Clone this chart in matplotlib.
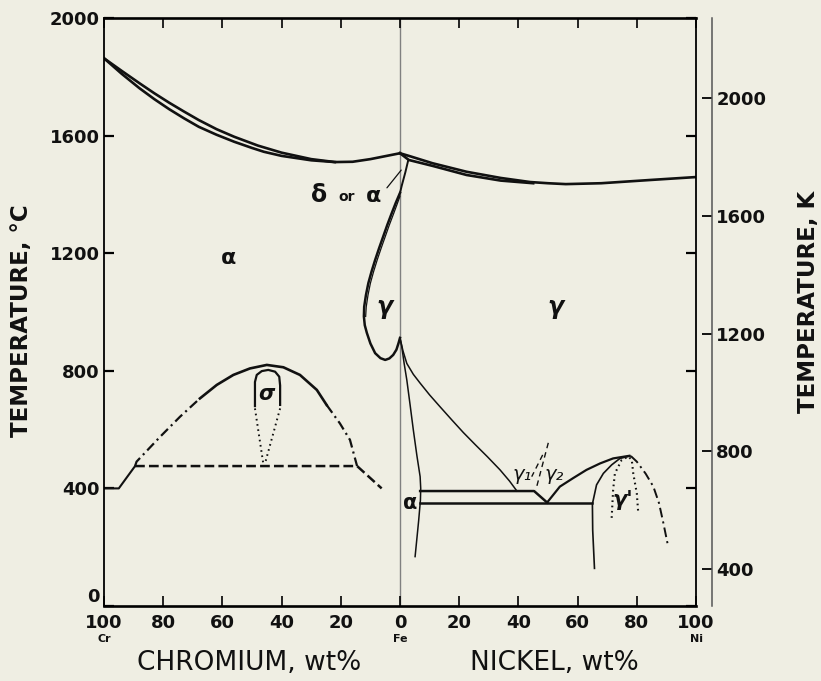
import numpy as np
import matplotlib.pyplot as plt

plt.rcParams['font.family'] = ['DejaVu Sans']
plt.rcParams['lines.scale_dashes'] = False

# ---- Fe-Cr side: wt% Cr, temperature in deg C ----
cr_liq = [100, 94, 88, 83, 78, 73, 68, 62, 56, 48, 40, 30, 22, 16, 10, 5, 0]
t_cr_liq = [1863, 1820, 1778, 1744, 1712, 1682, 1653, 1622, 1596, 1566, 1542, 1520,
            1510, 1511, 1520, 1530, 1540]
cr_sol = [100, 94, 88, 83, 78, 73, 68, 62, 56, 50, 46, 40, 30, 22]
t_cr_sol = [1863, 1810, 1761, 1724, 1690, 1659, 1630, 1603, 1579, 1558, 1545, 1531,
            1516, 1510]

# gamma loop (outer and inner boundary)
cr_loop_out = [0, 1.4, 2.8, 4.3, 5.7, 7.1, 8.4, 9.6, 10.7, 11.5, 12.1, 12.2, 11.9,
               11.2, 10.0, 8.4, 6.6, 5.0, 3.6, 2.3, 1.2, 0.5, 0]
t_loop_out = [1405, 1372, 1336, 1296, 1256, 1216, 1177, 1138, 1098, 1058, 1018, 985,
              955, 929, 893, 860, 843, 837, 842, 854, 872, 894, 912]
cr_loop_in = [0, 1.0, 2.1, 3.6, 5.0, 6.4, 7.7, 8.9, 10.0, 10.8, 11.4, 11.6]
t_loop_in = [1394, 1366, 1336, 1296, 1256, 1216, 1177, 1138, 1098, 1058, 1018, 985]

# alpha + alpha' miscibility gap and sigma
cr_gap_l = [89.5, 89, 81, 74.3, 67.6]
t_gap_l = [476, 491, 576, 644, 706]
cr_gap_top = [67.6, 61.9, 56.3, 50.7, 45, 39.4, 33.8, 28.1, 24.8]
t_gap_top = [706, 752, 786, 808, 820, 812, 786, 735, 684]
cr_gap_r = [24.8, 20.3, 16.9, 14.5]
t_gap_r = [684, 621, 565, 476]
cr_low = [100, 95, 89.5]
t_low = [400, 400, 476]
cr_eut = [89.5, 14.5, 6.2]
t_eut = [476, 476, 400]
cr_sig = [49, 49, 48.4, 46.7, 44.5, 42.2, 40.8, 40.5, 40.5]
t_sig = [680, 762, 786, 799, 803, 797, 780, 750, 684]
cr_sig_l = [49, 46.2]
cr_sig_r = [40.5, 45.6]
t_sig_dot = [672, 485]

# ---- Fe-Ni side: wt% Ni, temperature in deg C ----
ni_liq = [0, 3, 11, 22.5, 34, 44, 50, 56, 68, 84.5, 100]
t_ni_liq = [1540, 1531, 1506, 1477, 1456, 1442, 1438, 1435, 1438, 1449, 1459]
ni_sol = [0, 3, 11, 22.5, 34, 45]
t_ni_sol = [1540, 1517, 1497, 1466, 1447, 1438]
ni_delta = [2.8, 1.8, 0.6, 0]
t_delta = [1517, 1475, 1430, 1405]

ni_alpha = [0, 0.6, 1.4, 2.3, 3.4, 4.5, 5.7, 6.8, 7.0, 6.9, 6.3, 5.1]
t_alpha = [912, 882, 825, 769, 685, 599, 512, 440, 400, 360, 290, 168]
ni_gam = [0, 1, 2.3, 4.5, 6.8, 10, 13.5, 17.5, 21.4, 25.5, 29.5, 33.8, 37, 39.5]
t_gam = [912, 868, 825, 788, 758, 718, 678, 633, 590, 548, 508, 463, 425, 391]
ni_hi = [6.8, 45.3, 49.7]
t_hi = [391, 391, 352]
ni_lo = [6.8, 65]
t_lo = [352, 352]
ni_g2 = [49.7, 54, 58.5, 63, 67.6, 72, 77.5]
t_g2 = [352, 406, 435, 463, 485, 502, 511]
ni_dome_l = [65.7, 65.1, 65, 66.4, 68.7, 71.5, 74.3, 77.7]
t_dome_l = [128, 258, 347, 412, 451, 480, 502, 510]
ni_dome_r = [78, 80, 83, 85.6, 87.5, 89, 90.6]
t_dome_r = [510, 491, 450, 406, 350, 281, 202]
ni_ord_l = [76.5, 74.9, 72.6, 72, 71.5]
t_ord_l = [505, 497, 451, 395, 298]
ni_ord_r = [77.5, 78.3, 78.8, 80, 80.5]
t_ord_r = [505, 497, 451, 383, 315]
ni_g12a = [50.1, 45.9]
t_g12a = [555, 395]
ni_g12b = [48.2, 44.5]
t_g12b = [514, 440]

x_ticks = [-100, -80, -60, -40, -20, 0, 20, 40, 60, 80, 100]
x_labels = ['100', '80', '60', '40', '20', '0', '20', '40', '60', '80', '100']
t_ticks = [0, 400, 800, 1200, 1600, 2000]
k_ticks = [400, 800, 1200, 1600, 2000]

bg = '#efeee3'
ink = '#111111'
dashdot = (0, (7, 3, 1.5, 3))
dashed = (0, (7, 3))
dotted = (0, (1.2, 2.6))

fig = plt.figure(figsize=(8.21, 6.81), dpi=100, facecolor=bg)
ax = fig.add_axes([104 / 821, 75 / 681, 592 / 821, 588 / 681])
ax.set_facecolor(bg)
ax.set_xlim(-100, 100)
ax.set_ylim(0, 2000)


def neg(v):
    return -np.array(v)


# liquidus / solidus
ax.plot(neg(cr_liq), t_cr_liq, color=ink, lw=1.9)
ax.plot(neg(cr_sol), t_cr_sol, color=ink, lw=1.9)
ax.plot(ni_liq, t_ni_liq, color=ink, lw=1.9)
ax.plot(ni_sol, t_ni_sol, color=ink, lw=1.9)
ax.plot(ni_delta, t_delta, color=ink, lw=1.4)

# gamma loop
ax.plot(neg(cr_loop_out), t_loop_out, color=ink, lw=1.8)
ax.plot(neg(cr_loop_in), t_loop_in, color=ink, lw=0.9)

# Cr side low temperature
ax.plot(neg(cr_gap_l), t_gap_l, color=ink, lw=1.6, ls=dashdot)
ax.plot(neg(cr_gap_top), t_gap_top, color=ink, lw=1.9)
ax.plot(neg(cr_gap_r), t_gap_r, color=ink, lw=1.6, ls=dashdot)
ax.plot(neg(cr_low), t_low, color=ink, lw=1.5)
ax.plot(neg(cr_eut), t_eut, color=ink, lw=1.8, ls=dashed)
ax.plot(neg(cr_sig), t_sig, color=ink, lw=1.6)
ax.plot(neg(cr_sig_l), t_sig_dot, color=ink, lw=1.4, ls=dotted)
ax.plot(neg(cr_sig_r), t_sig_dot, color=ink, lw=1.4, ls=dotted)

# Ni side low temperature
ax.plot(ni_alpha, t_alpha, color=ink, lw=1.1)
ax.plot(ni_gam, t_gam, color=ink, lw=1.1)
ax.plot(ni_hi, t_hi, color=ink, lw=1.8)
ax.plot(ni_lo, t_lo, color=ink, lw=1.8)
ax.plot(ni_g2, t_g2, color=ink, lw=1.6)
ax.plot(ni_dome_l, t_dome_l, color=ink, lw=1.2)
ax.plot(ni_dome_r, t_dome_r, color=ink, lw=1.4, ls=dashdot)
ax.plot(ni_ord_l, t_ord_l, color=ink, lw=1.5, ls=dotted)
ax.plot(ni_ord_r, t_ord_r, color=ink, lw=1.5, ls=dotted)
ax.plot(ni_g12a, t_g12a, color=ink, lw=1.0, ls=(0, (4, 3)))
ax.plot(ni_g12b, t_g12b, color=ink, lw=1.0, ls=(0, (4, 3)))

# pure Fe line
ax.axvline(0, color='#808080', lw=1.0, zorder=0)

# phase labels
ax.text(-58, 1184, 'α', fontsize=16, fontweight='bold', ha='center', va='center',
        color=ink)
ax.text(-27.5, 1398, 'δ', fontsize=17, fontweight='bold', ha='center', va='center',
        color=ink)
ax.text(-18, 1392, 'or', fontsize=10, fontweight='bold', ha='center', va='center',
        color=ink)
ax.text(-8.8, 1394, 'α', fontsize=16, fontweight='bold', ha='center', va='center',
        color=ink)
ax.annotate('', xy=(1.0, 1490), xytext=(-5.0, 1415),
            arrowprops=dict(arrowstyle='-', color=ink, lw=0.9))
ax.text(-5.2, 1017, 'γ', fontsize=17, fontweight='bold', style='italic', ha='center',
        va='center', color=ink)
ax.text(52.4, 1017, 'γ', fontsize=17, fontweight='bold', style='italic', ha='center',
        va='center', color=ink)
ax.text(-45, 720, 'σ', fontsize=15, fontweight='bold', style='italic', ha='center',
        va='center', color=ink)
ax.text(3.6, 352, 'α', fontsize=15, fontweight='bold', ha='center', va='center',
        color=ink)
ax.text(41.3, 446, 'γ₁', fontsize=14, style='italic', ha='center', va='center',
        color=ink)
ax.text(52.0, 446, 'γ₂', fontsize=14, style='italic', ha='center', va='center',
        color=ink)
ax.text(75.3, 362, "γ'", fontsize=15, fontweight='bold', style='italic', ha='center',
        va='center', color=ink)

# axes, ticks
for side in ['top', 'bottom']:
    ax.spines[side].set_linewidth(1.9)
for side in ['left', 'right']:
    ax.spines[side].set_linewidth(1.3)
ax.set_xticks(x_ticks)
ax.set_xticklabels(x_labels)
ax.set_yticks(t_ticks)
ax.tick_params(axis='x', direction='in', length=7, width=1.2, top=True, pad=6,
               labelsize=13, labelcolor=ink)
ax.tick_params(axis='y', direction='in', length=7, width=1.6, right=True, pad=3,
               labelsize=13, labelcolor=ink)
for lab in ax.get_xticklabels() + ax.get_yticklabels():
    lab.set_fontweight('bold')
ax.get_yticklabels()[0].set_va('bottom')

for xv, name in [(-100, 'Cr'), (0, 'Fe'), (100, 'Ni')]:
    ax.text(xv, -0.056, name, transform=ax.get_xaxis_transform(), fontsize=8,
            fontweight='bold', ha='center', va='center', color=ink)

# Kelvin scale
ax2 = fig.add_axes([662 / 821, 75 / 681, 50 / 821, 588 / 681])
ax2.patch.set_visible(False)
ax2.set_ylim(273.15, 2273.15)
for side in ['top', 'bottom', 'left']:
    ax2.spines[side].set_visible(False)
ax2.spines['right'].set_linewidth(1.1)
ax2.spines['right'].set_color('#555555')
ax2.set_xticks([])
ax2.yaxis.tick_right()
ax2.set_yticks(k_ticks)
ax2.tick_params(axis='y', direction='in', length=7, width=1.3, pad=3,
                labelsize=13, labelcolor=ink)
for lab in ax2.get_yticklabels():
    lab.set_fontweight('bold')

fig.text(249 / 821, 1 - 663 / 681, 'CHROMIUM, wt%', fontsize=19, ha='center',
         va='center', color=ink)
fig.text(554 / 821, 1 - 663 / 681, 'NICKEL, wt%', fontsize=19, ha='center',
         va='center', color=ink)
fig.text(22 / 821, 1 - 321 / 681, 'TEMPERATURE, °C', fontsize=16.5, fontweight='bold',
         rotation=90, ha='center', va='center', color=ink)
fig.text(808 / 821, 1 - 302 / 681, 'TEMPERATURE, K', fontsize=16.5, fontweight='bold',
         rotation=90, ha='center', va='center', color=ink)

fig.savefig('out.png', dpi=100, facecolor=bg)
